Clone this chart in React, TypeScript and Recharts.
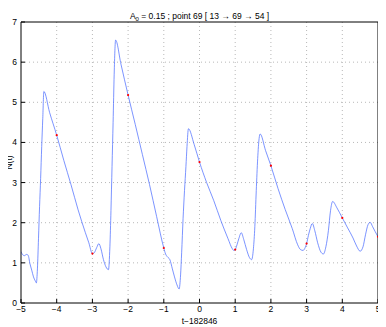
import React from "react";
import {
  ComposedChart,
  Line,
  Scatter,
  XAxis,
  YAxis,
  CartesianGrid,
  Label,
} from "recharts";

// sampled trace of N(t) around t = 182846
const tValues = [
  -5, -4.95, -4.9, -4.85, -4.8, -4.75, -4.7, -4.65, -4.6, -4.57, -4.54, -4.51, -4.48, -4.45,
  -4.42, -4.39, -4.36, -4.2, -4.0, -3.8, -3.6, -3.4, -3.2, -3.1, -3.0, -2.95, -2.88, -2.82,
  -2.76, -2.69, -2.62, -2.55, -2.51, -2.48, -2.45, -2.42, -2.39, -2.35, -2.2, -2.0, -1.8,
  -1.6, -1.4, -1.2, -1.0, -0.95, -0.9, -0.83, -0.76, -0.7, -0.63, -0.57, -0.53, -0.5, -0.46,
  -0.42, -0.38, -0.35, -0.31, -0.15, 0.0, 0.2, 0.4, 0.6, 0.8, 0.92, 0.96, 1.0, 1.05, 1.1,
  1.17, 1.24, 1.32, 1.4, 1.46, 1.51, 1.55, 1.59, 1.63, 1.67, 1.7, 1.85, 2.0, 2.2, 2.4, 2.6,
  2.75, 2.83, 2.9, 2.96, 3.0, 3.05, 3.1, 3.16, 3.23, 3.31, 3.4, 3.47, 3.54, 3.61, 3.67, 3.73,
  3.85, 4.0, 4.15, 4.3, 4.4, 4.5, 4.58, 4.65, 4.72, 4.78, 4.85, 4.92, 5.0,
];
const nValues = [
  1.28, 1.2, 1.18, 1.21, 1.19, 0.98, 0.82, 0.65, 0.55, 0.5, 0.85, 1.6, 2.4, 3.1,
  3.9, 4.6, 5.27, 4.75, 4.18, 3.55, 2.95, 2.32, 1.76, 1.5, 1.23, 1.25, 1.38, 1.48,
  1.35, 1.08, 0.9, 0.83, 1.4, 2.3, 3.4, 4.5, 5.7, 6.55, 5.95, 5.18, 4.45,
  3.7, 2.95, 2.15, 1.37, 1.22, 1.15, 1.08, 0.85, 0.65, 0.45, 0.35, 0.7, 1.25, 2.1,
  2.8, 3.4, 3.9, 4.34, 3.95, 3.51, 3.0, 2.55, 2.05, 1.6, 1.35, 1.31, 1.33, 1.45, 1.6,
  1.75, 1.58, 1.33, 1.13, 1.08, 1.35, 1.9, 2.8, 3.6, 4.1, 4.21, 3.8, 3.42, 2.85, 2.33, 1.85,
  1.45, 1.33, 1.31, 1.38, 1.48, 1.68, 1.85, 1.98, 1.8, 1.5, 1.27, 1.22, 1.4, 1.8, 2.3, 2.53,
  2.37, 2.12, 1.87, 1.62, 1.42, 1.29, 1.4, 1.7, 1.95, 2.01, 1.9, 1.78, 1.65,
];

// red markers at integer offsets
const markT = [-4, -3, -2, -1, 0, 1, 2, 3, 4, 5];
const markN = [4.18, 1.23, 5.18, 1.37, 3.51, 1.33, 3.42, 1.48, 2.12, 1.65];

const xTicks = [-5, -4, -3, -2, -1, 0, 1, 2, 3, 4, 5];
const yTicks = [0, 1, 2, 3, 4, 5, 6, 7];

const curve = tValues.map((t, i) => ({ t, n: nValues[i] }));
const marks = markT.map((t, i) => ({ t, n: markN[i] }));

const fmt = (v: number) => String(v).replace("-", "\u2212");
const tickStyle = { fontSize: 8.5, fill: "#000" };

const TitleText = (props: any) => {
  const { x, y, width } = props.viewBox;
  return (
    <text x={x + width / 2} y={y - 2} textAnchor="middle" fontSize={8.5} fill="#000">
      A<tspan fontSize={6} dy={2}>0</tspan>
      <tspan dy={-2}> = 0.15 ; point 69 [ 13 → 69 → 54 ]</tspan>
    </text>
  );
};

const XText = (props: any) => {
  const { x, y, width } = props.viewBox;
  return (
    <text x={x + width / 2} y={y + 20.5} textAnchor="middle" fontSize={8.5} fill="#000">
      t{"\u2212"}182846
    </text>
  );
};

const YText = (props: any) => {
  const { y, height } = props.viewBox;
  const cy = y + height / 2;
  return (
    <text x={11.5} y={cy} transform={`rotate(-90 11.5 ${cy})`} textAnchor="middle" fontSize={8.5} fill="#000">
      N(t)
    </text>
  );
};

const RedDot = (props: any) => (
  <circle cx={props.cx} cy={props.cy} r={1.1} fill="#ff0000" />
);

export default function App() {
  return (
    <div style={{ margin: "-8px 0 0 -8px", fontFamily: "'Liberation Sans', Arial, sans-serif" }}>
      <ComposedChart
        width={386}
        height={327}
        margin={{ top: 21, right: 7, bottom: 0, left: 0 }}
        style={{ background: "#fff" }}
      >
        <CartesianGrid
          xAxisId="b"
          yAxisId="l"
          stroke="#b8b8b8"
          strokeDasharray="1 3"
          horizontalValues={yTicks.slice(1, -1)}
          verticalValues={xTicks.slice(1, -1)}
        />
        <XAxis
          xAxisId="b"
          dataKey="t"
          type="number"
          domain={[-5, 5]}
          ticks={xTicks}
          tickFormatter={fmt}
          height={24}
          tickSize={-4}
          tickMargin={7}
          stroke="#000"
          tick={tickStyle}
          allowDataOverflow
        >
          <Label content={XText} />
        </XAxis>
        <XAxis
          xAxisId="t"
          orientation="top"
          type="number"
          domain={[-5, 5]}
          ticks={xTicks}
          height={1}
          tickSize={-4}
          tick={false}
          stroke="#000"
          allowDataOverflow
        >
          <Label content={TitleText} />
        </XAxis>
        <YAxis
          yAxisId="l"
          type="number"
          domain={[0, 7]}
          ticks={yTicks}
          width={21}
          tickSize={-4}
          tickMargin={8}
          stroke="#000"
          tick={tickStyle}
          allowDataOverflow
        >
          <Label content={YText} />
        </YAxis>
        <YAxis
          yAxisId="r"
          orientation="right"
          type="number"
          domain={[0, 7]}
          ticks={yTicks}
          width={1}
          tickSize={-4}
          tick={false}
          stroke="#000"
          allowDataOverflow
        />
        <Line
          xAxisId="b"
          yAxisId="l"
          data={curve}
          dataKey="n"
          type="monotone"
          stroke="#4466ff"
          strokeWidth={0.7}
          dot={false}
          isAnimationActive={false}
        />
        <Scatter
          xAxisId="b"
          yAxisId="l"
          data={marks}
          dataKey="n"
          shape={RedDot}
          isAnimationActive={false}
        />
      </ComposedChart>
    </div>
  );
}
